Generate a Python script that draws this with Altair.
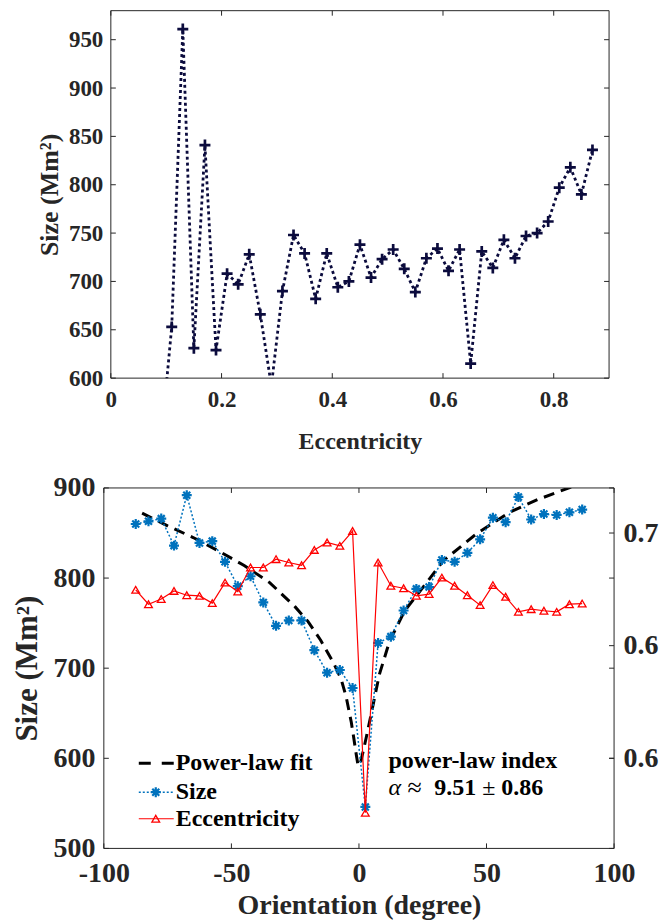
import altair as alt
import pandas as pd

FONT = "Liberation Serif"
AX = "#262626"
NAVY = "#0b0b3d"
BLUE = "#0072BD"
RED = "#FF0000"

# ---------------- top panel data (Eccentricity vs Size) ----------------
ecc_bins = [0.09, 0.11, 0.13, 0.15, 0.17, 0.19, 0.21, 0.23, 0.25, 0.27,
            0.29, 0.31, 0.33, 0.35, 0.37, 0.39, 0.41, 0.43, 0.45, 0.47,
            0.49, 0.51, 0.53, 0.55, 0.57, 0.59, 0.61, 0.63, 0.65, 0.67,
            0.69, 0.71, 0.73, 0.75, 0.77, 0.79, 0.81, 0.83, 0.85, 0.87]
ecc_size = [530, 653, 961, 631, 841, 629, 708, 697, 728, 666,
            592, 690, 748, 729, 682, 729, 694, 700, 738, 704,
            723, 733, 713, 689, 724, 734, 711, 733, 615, 731,
            714, 743, 724, 747, 750, 762, 797, 818, 790, 836]

# ---------------- bottom panel data (Orientation) ----------------
orient = [-87.5, -82.5, -77.5, -72.5, -67.5, -62.5, -57.5, -52.5, -47.5,
          -42.5, -37.5, -32.5, -27.5, -22.5, -17.5, -12.5, -7.5, -2.5,
          2.5, 7.5, 12.5, 17.5, 22.5, 27.5, 32.5, 37.5, 42.5,
          47.5, 52.5, 57.5, 62.5, 67.5, 72.5, 77.5, 82.5, 87.5]
orient_size = [860, 863, 866, 836, 892, 839, 841, 818, 791,
               802, 773, 747, 753, 753, 720, 695, 698, 678,
               546, 728, 735, 764, 788, 790, 820, 818, 828,
               843, 867, 862, 890, 865, 871, 870, 873, 876]
orient_ecc = [0.6748, 0.6684, 0.6707, 0.6743, 0.6724, 0.6721, 0.6689, 0.6780, 0.6740,
              0.6847, 0.6847, 0.6884, 0.6869, 0.6857, 0.6925, 0.6958, 0.6943, 0.7009,
              0.5758, 0.6869, 0.6766, 0.6755, 0.6721, 0.6729, 0.6802, 0.6766, 0.6724,
              0.6680, 0.6769, 0.6717, 0.6650, 0.6662, 0.6655, 0.6650, 0.6684, 0.6687]
fit_theta = [-85, -75, -65, -55, -45, -35, -25, -20, -15, -10, -7, -5, -3, -2, -1, -0.4,
             0.4, 1, 2, 3, 5, 8, 12, 18, 23, 33, 46, 59, 70, 85]
fit_size = [872, 858, 845, 830, 814, 795, 768, 752, 731, 706, 688, 668, 640, 622, 603, 593,
            592, 600, 612, 625, 652, 693, 730, 764, 782, 819, 849, 873, 887, 903]

top_x_ticks = [0, 0.2, 0.4, 0.6, 0.8]
top_y_ticks = [600, 650, 700, 750, 800, 850, 900, 950]
bot_x_ticks = [-100, -50, 0, 50, 100]
bot_y_ticks = [500, 600, 700, 800, 900]
bot_r_ticks = [0.6, 0.65, 0.7]

PLUS = "M-1,0L1,0M0,-1L0,1"
STAR = "M-1,0L1,0M0,-1L0,1M-0.7,-0.7L0.7,0.7M-0.7,0.7L0.7,-0.7"

one = pd.DataFrame({"k": [0]})

def lab(size, tsize):
    return dict(labelFont=FONT, labelFontSize=size, labelFontWeight="bold", labelColor=AX,
                titleFont=FONT, titleFontSize=tsize, titleFontWeight="bold", titleColor=AX,
                labelFlush=False, labelOverlap=False, domain=False, ticks=False, grid=False)

# ============ TOP PANEL ============
W1, H1 = 506, 368
xs1 = alt.Scale(domain=[0, 0.9], range=[7, 506], nice=False, zero=False)
ys1 = alt.Scale(domain=[600, 980], nice=False, zero=False)
xaxis1 = alt.Axis(values=top_x_ticks, format="~g", title="Eccentricity", labelPadding=10,
                  titleY=70, titleBaseline="alphabetic", **lab(23, 24))
yaxis1 = alt.Axis(values=top_y_ticks, format="d", title="Size (Mm²)", offset=-7, labelPadding=8,
                  titleX=-61, titleBaseline="middle", **lab(23, 26))

d1 = pd.DataFrame({"e": ecc_bins, "s": ecc_size})
X1 = alt.X("e:Q", scale=xs1, axis=xaxis1)
Y1 = alt.Y("s:Q", scale=ys1, axis=yaxis1)

top_line = alt.Chart(d1).mark_line(color=NAVY, strokeDash=[3, 3], strokeWidth=2.8, clip=True).encode(x=X1, y=Y1)
top_pts = alt.Chart(d1).mark_point(shape=PLUS, filled=False, size=121, strokeWidth=2.7,
                                   color=NAVY, opacity=1, clip=True).encode(x=X1, y=Y1)

dty = pd.DataFrame({"s": top_y_ticks})
dtx = pd.DataFrame({"e": top_x_ticks})
tk1 = [
    alt.Chart(dty).mark_rule(color=AX, strokeWidth=1).encode(y=Y1, x=alt.value(7), x2=alt.value(12)),
    alt.Chart(dty).mark_rule(color=AX, strokeWidth=1).encode(y=Y1, x=alt.value(501), x2=alt.value(506)),
    alt.Chart(dtx).mark_rule(color=AX, strokeWidth=1).encode(x=X1, y=alt.value(H1), y2=alt.value(H1 - 5)),
    alt.Chart(dtx).mark_rule(color=AX, strokeWidth=1).encode(x=X1, y=alt.value(0), y2=alt.value(5)),
]
frame1 = [
    alt.Chart(one).mark_rule(color=AX, strokeWidth=1).encode(x=alt.value(7), y=alt.value(0), y2=alt.value(H1)),
    alt.Chart(one).mark_rule(color=AX, strokeWidth=1).encode(x=alt.value(506), y=alt.value(0), y2=alt.value(H1)),
    alt.Chart(one).mark_rule(color=AX, strokeWidth=1).encode(y=alt.value(0), x=alt.value(7), x2=alt.value(506)),
    alt.Chart(one).mark_rule(color=AX, strokeWidth=1).encode(y=alt.value(H1), x=alt.value(7), x2=alt.value(506)),
]
top = alt.layer(top_line, top_pts, *tk1, *frame1).properties(width=W1, height=H1)

# ============ BOTTOM PANEL ============
W2, H2 = 511, 361
xs2 = alt.Scale(domain=[-100, 100], nice=False, zero=False)
ys2 = alt.Scale(domain=[500, 900], nice=False, zero=False)
yr2 = alt.Scale(domain=[0.56, 0.72], nice=False, zero=False)
xaxis2 = alt.Axis(values=bot_x_ticks, labelExpr="datum.value + ''", title="Orientation (degree)",
                  labelPadding=11, titleY=65, titleBaseline="alphabetic", **lab(28, 28))
yaxis2 = alt.Axis(values=bot_y_ticks, format="d", title="Size (Mm²)", labelPadding=9,
                  titleX=-76, titleBaseline="middle", **lab(28, 31))
raxis2 = alt.Axis(values=bot_r_ticks, format=".2~f", title=None, orient="right", labelPadding=9, **lab(28, 28))

X2 = alt.X("t:Q", scale=xs2, axis=xaxis2)
Y2 = alt.Y("v:Q", scale=ys2, axis=yaxis2)
R2 = alt.Y("r:Q", scale=yr2, axis=raxis2)

dfit = pd.DataFrame({"t": fit_theta, "v": fit_size})
dsz = pd.DataFrame({"t": orient, "v": orient_size})
dec = pd.DataFrame({"t": orient, "r": orient_ecc})

fit_line = alt.Chart(dfit).mark_line(color="black", strokeDash=[11, 7], strokeWidth=3, clip=True).encode(x=X2, y=Y2)
size_line = alt.Chart(dsz).mark_line(color=BLUE, strokeDash=[2, 2], strokeWidth=1.5, clip=True).encode(x=X2, y=Y2)
size_pts = alt.Chart(dsz).mark_point(shape=STAR, filled=False, size=100, strokeWidth=2.2,
                                     color=BLUE, opacity=1, clip=True).encode(x=X2, y=Y2)

dby = pd.DataFrame({"v": bot_y_ticks})
dbx = pd.DataFrame({"t": bot_x_ticks})
tk2 = [
    alt.Chart(dby).mark_rule(color=AX, strokeWidth=1).encode(y=Y2, x=alt.value(0), x2=alt.value(5)),
    alt.Chart(dby).mark_rule(color=AX, strokeWidth=1).encode(y=Y2, x=alt.value(W2 - 5), x2=alt.value(W2)),
    alt.Chart(dbx).mark_rule(color=AX, strokeWidth=1).encode(x=X2, y=alt.value(H2), y2=alt.value(H2 - 5)),
    alt.Chart(dbx).mark_rule(color=AX, strokeWidth=1).encode(x=X2, y=alt.value(0), y2=alt.value(5)),
]
frame2 = [
    alt.Chart(one).mark_rule(color=AX, strokeWidth=1).encode(x=alt.value(0), y=alt.value(0), y2=alt.value(H2)),
    alt.Chart(one).mark_rule(color=AX, strokeWidth=1).encode(x=alt.value(W2), y=alt.value(0), y2=alt.value(H2)),
    alt.Chart(one).mark_rule(color=AX, strokeWidth=1).encode(y=alt.value(0), x=alt.value(0), x2=alt.value(W2)),
    alt.Chart(one).mark_rule(color=AX, strokeWidth=1).encode(y=alt.value(H2), x=alt.value(0), x2=alt.value(W2)),
]

# legend (manual, inside plot)
LX0, LX1, LXM, LXT = 35, 70, 52, 72
rows = [275.7, 304.7, 331.3]
legend = [
    alt.Chart(one).mark_rule(color="black", strokeDash=[12, 11], strokeWidth=3).encode(
        x=alt.value(LX0), x2=alt.value(LX1), y=alt.value(rows[0])),
    alt.Chart(one).mark_rule(color=BLUE, strokeDash=[2, 2], strokeWidth=1.5).encode(
        x=alt.value(LX0), x2=alt.value(LX1), y=alt.value(rows[1])),
    alt.Chart(one).mark_point(shape=STAR, filled=False, size=100, strokeWidth=2.2, color=BLUE, opacity=1).encode(
        x=alt.value(LXM), y=alt.value(rows[1])),
    alt.Chart(one).mark_rule(color=RED, strokeWidth=1.2).encode(
        x=alt.value(LX0), x2=alt.value(LX1), y=alt.value(rows[2])),
    alt.Chart(one).mark_point(shape="triangle-up", filled=False, size=60, strokeWidth=1.3, color=RED, opacity=1).encode(
        x=alt.value(LXM), y=alt.value(rows[2])),
]
for txt, yy in zip(["Power-law fit", "Size", "Eccentricity"], rows):
    legend.append(alt.Chart(one).mark_text(text=txt, font=FONT, fontSize=24, fontWeight="bold",
                                           align="left", baseline="middle", color="black").encode(
        x=alt.value(LXT), y=alt.value(yy)))

# annotation
ann = []
for txt, xx, yy, w, st, fs in [("power-law index", 285, 273.7, "bold", "normal", 24),
                               ("α", 285, 301, "normal", "italic", 24),
                               ("≈", 304, 301, "normal", "normal", 26),
                               ("9.51", 331, 301, "bold", "normal", 24),
                               ("±", 379, 301, "normal", "normal", 24),
                               ("0.86", 398, 301, "bold", "normal", 24)]:
    ann.append(alt.Chart(one).mark_text(text=txt, font=FONT, fontSize=fs, fontWeight=w, fontStyle=st,
                                        align="left", baseline="middle", color="black").encode(
        x=alt.value(xx), y=alt.value(yy)))

left_group = alt.layer(fit_line, size_line, size_pts, *tk2, *frame2, *legend, *ann)

ecc_line = alt.Chart(dec).mark_line(color=RED, strokeWidth=1.2, clip=True).encode(x=X2, y=R2)
ecc_pts = alt.Chart(dec).mark_point(shape="triangle-up", filled=False, size=60, strokeWidth=1.3,
                                    color=RED, opacity=1, clip=True).encode(x=X2, y=R2)
drt = pd.DataFrame({"r": bot_r_ticks})
rticks = alt.Chart(drt).mark_rule(color=AX, strokeWidth=1).encode(y=R2, x=alt.value(W2 - 5), x2=alt.value(W2))
right_group = alt.layer(ecc_line, ecc_pts, rticks)

bottom = alt.layer(left_group, right_group).resolve_scale(y="independent").properties(width=W2, height=H2)

chart = alt.vconcat(top, bottom, spacing=110, bounds="flush").properties(
    padding={"left": 12, "top": 9, "right": -13, "bottom": 2}
).configure_view(strokeWidth=0).configure_axis(
    labelFont=FONT, titleFont=FONT, labelFontWeight="bold", titleFontWeight="bold",
    labelColor=AX, titleColor=AX
)

chart.save("out.html", embed_options={"renderer": "svg", "actions": False})
